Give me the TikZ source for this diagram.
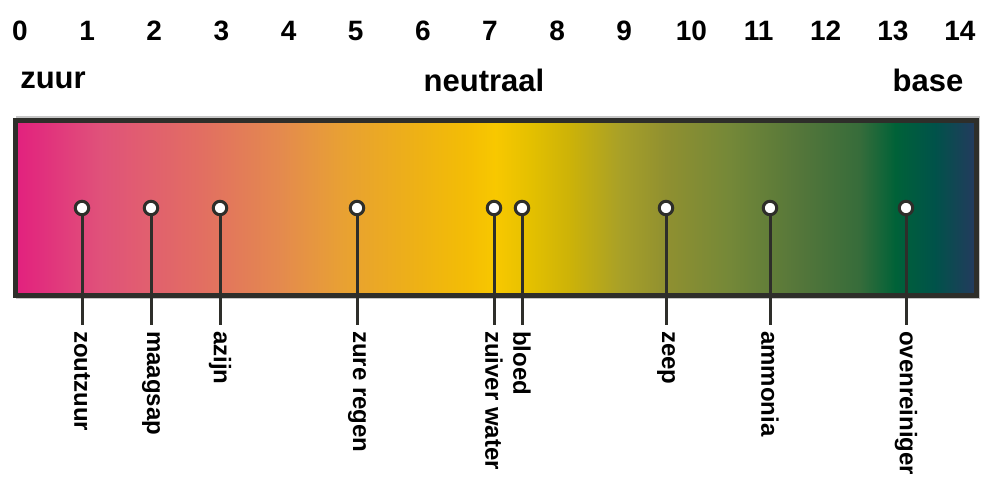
\documentclass[tikz,border=0pt]{standalone}
\usepackage{fontspec}
\setmainfont{Liberation Sans}
\definecolor{barline}{HTML}{2E2E2A}
\definecolor{sa}{HTML}{E2207E}
\definecolor{sb}{HTML}{E0527A}
\definecolor{sc}{HTML}{E26E62}
\definecolor{sd}{HTML}{E48A4E}
\definecolor{se}{HTML}{E8A034}
\definecolor{sf}{HTML}{EEB214}
\definecolor{sg}{HTML}{F4BE04}
\definecolor{sh}{HTML}{F8C800}
\definecolor{si}{HTML}{E4C000}
\definecolor{sj}{HTML}{CCB208}
\definecolor{sk}{HTML}{A8A028}
\definecolor{sl}{HTML}{909030}
\definecolor{sm}{HTML}{748838}
\definecolor{sn}{HTML}{54763A}
\definecolor{so}{HTML}{366C3A}
\definecolor{sp}{HTML}{006238}
\definecolor{sq}{HTML}{00524A}
\definecolor{sr}{HTML}{243A5E}
\begin{document}
\begin{tikzpicture}[x=1pt,y=-1pt,
  num/.style={font=\bfseries\fontsize{28}{30}\selectfont, inner sep=0pt},
  cat/.style={font=\bfseries\fontsize{31}{33}\selectfont, inner sep=0pt},
  dot/.style={circle, fill=white, draw=barline, line width=3pt, minimum size=13.5pt, inner sep=0pt},
  lab/.style={font=\bfseries\fontsize{24}{26}\selectfont, rotate=-90, anchor=west, inner sep=0pt},
  stem/.style={draw=barline, line width=3pt}]
\useasboundingbox (0,0) rectangle (984,478);
% shadow
\fill[gray!45] (16,116) rectangle (980,299);
% gradient bar
\foreach \xa/\ca/\xb/\cb in {15/sa/100/sb, 100/sb/200/sc, 200/sc/280/sd, 280/sd/340/se, 340/se/420/sf, 420/sf/470/sg, 470/sg/495/sh, 495/sh/530/si, 530/si/570/sj, 570/sj/620/sk, 620/sk/665/sl, 665/sl/730/sm, 730/sm/800/sn, 800/sn/860/so, 860/so/895/sp, 895/sp/935/sq, 935/sq/975/sr}
  \shade[left color=\ca, right color=\cb] (\xa,122) rectangle ({\xb+0.6},294);
\draw[draw=barline, line width=5pt] (15,121) rectangle (976,295);
% numbers
\foreach \p in {0,...,14}
  \node[num] (n\p) at ({20+67.14*\p},31) {\p};
\node[cat] (zuur) at (53,80) {zuur};
\node[cat] (neutraal) at (484,80) {neutraal};
\node[cat] (base) at (928,80) {base};
% markers
\foreach \n/\x/\t in {a/82/zoutzuur, b/151/maagsap, c/220/azijn, d/357/zure regen, e/494/zuiver water, f/522/bloed, g/666/zeep, h/770/ammonia, i/906/ovenreiniger}{
  \node[lab] (l\n) at (\x,331) {\t};
  \draw[stem, shorten >=6pt] (\x,214) coordinate (s\n) -- (l\n.west);
  \node[dot] (d\n) at (\x,208) {};
}
\end{tikzpicture}
\end{document}
